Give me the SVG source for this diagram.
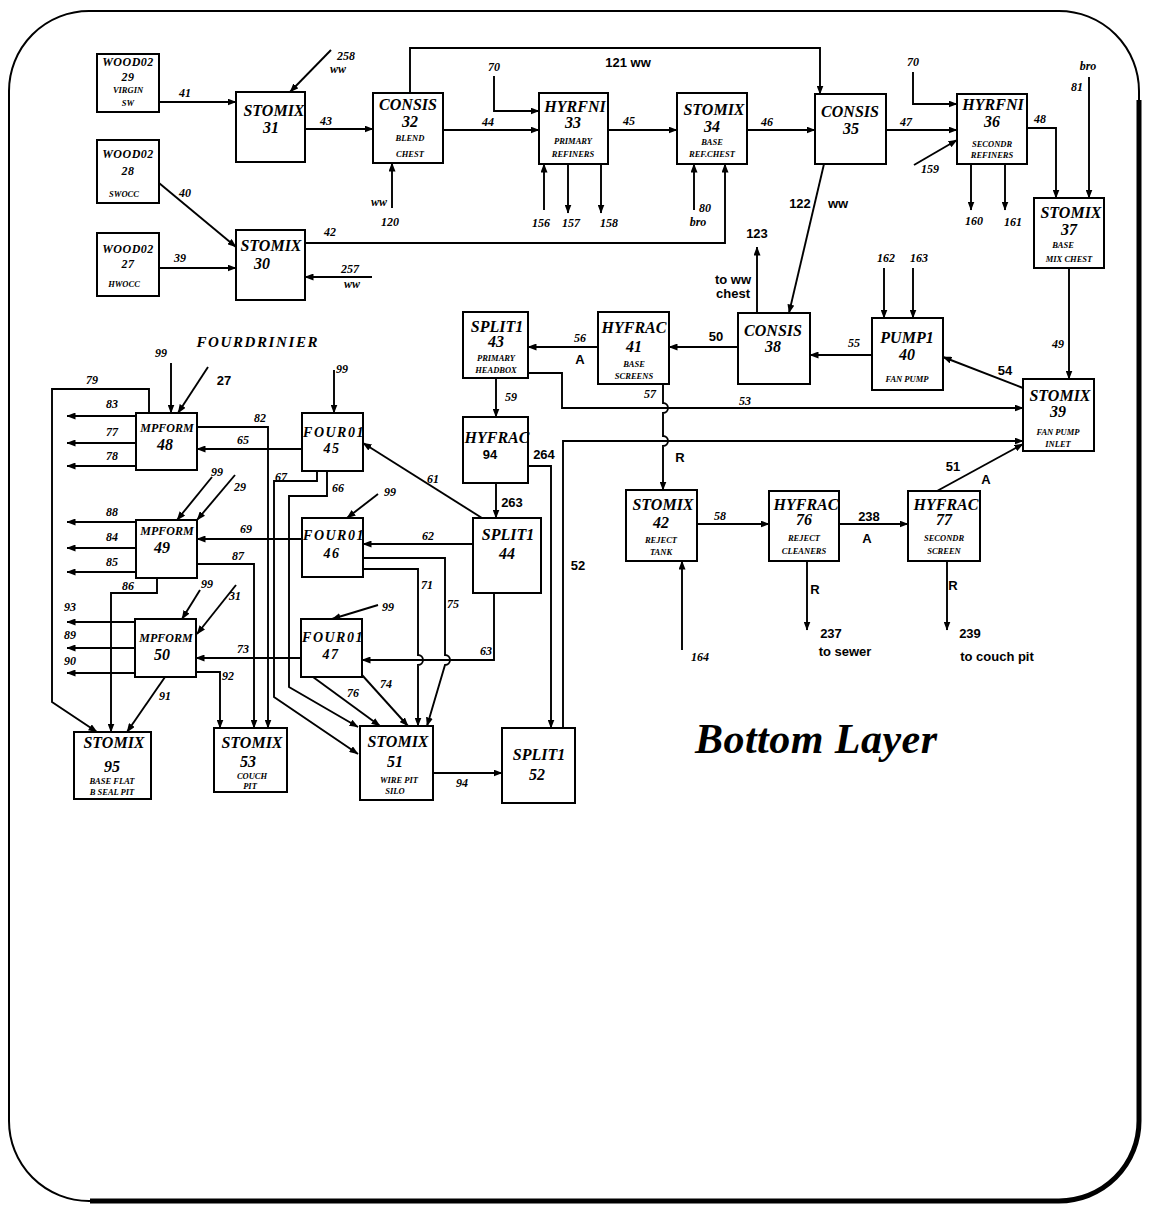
<svg xmlns="http://www.w3.org/2000/svg" width="1149" height="1212" viewBox="0 0 1149 1212">
<defs>
<marker id="ah" markerUnits="userSpaceOnUse" markerWidth="9" markerHeight="7" refX="8.5" refY="3.5" orient="auto"><path d="M0,0 L9,3.5 L0,7 z" fill="#000"/></marker>
<style>
.bx{fill:#fff;stroke:#000;stroke-width:2}
text{font-family:"Liberation Serif",serif;font-style:italic;font-weight:bold;text-anchor:middle;fill:#000}
.t{font-size:16px}
.w{font-size:12px;letter-spacing:0.5px}
.f{font-size:14px;letter-spacing:1.5px}
.m{font-size:12px}
.s{font-size:8.5px}
.e{font-size:12px}
.g{font-family:"Liberation Sans",sans-serif;font-style:normal;font-size:13px}
.c path{fill:none;stroke:#000;stroke-width:1.9}
.c .ar{marker-end:url(#ah)}
.fr{fill:none;stroke:#000}
</style>
</defs>
<rect width="1149" height="1212" fill="#fff"/>
<g id="frame">
<rect class="fr" x="9" y="11" width="1130" height="1190" rx="80" ry="80" stroke-width="2"/>
<path class="fr" d="M1139,100 V1121 A80,80 0 0 1 1059,1201 H90" stroke-width="5"/>
</g>

<g id="connectors" class="c">
<path class="ar" d="M159,102 H236"/>
<path class="ar" d="M331,50 L290,92"/>
<path class="ar" d="M305,129 H373"/>
<path class="ar" d="M392,208 V163"/>
<path class="ar" d="M410,93 V48 H820 V94"/>
<path class="ar" d="M443,130 H539"/>
<path class="ar" d="M494,76 V111 H539"/>
<path class="ar" d="M608,130 H677"/>
<path class="ar" d="M544,210 V164"/>
<path class="ar" d="M568,164 V213"/>
<path class="ar" d="M601,164 V213"/>
<path class="ar" d="M694,210 V164"/>
<path class="ar" d="M305,243 H725 V164"/>
<path class="ar" d="M747,130 H815"/>
<path class="ar" d="M886,130 H957"/>
<path class="ar" d="M913,72 V104 H957"/>
<path class="ar" d="M914,165 L957,140"/>
<path class="ar" d="M971,164 V210"/>
<path class="ar" d="M1005,164 V210"/>
<path class="ar" d="M1027,128 H1056 V198"/>
<path class="ar" d="M1089,77 V198"/>
<path class="ar" d="M159,183 L236,247"/>
<path class="ar" d="M159,268 H236"/>
<path class="ar" d="M372,277 H305"/>
<path class="ar" d="M824,164 L789,313"/>
<path class="ar" d="M757,313 V247"/>
<path class="ar" d="M884,268 V318"/>
<path class="ar" d="M913,268 V318"/>
<path class="ar" d="M1069,268 V379"/>
<path class="ar" d="M872,355 H810"/>
<path class="ar" d="M738,347 H669"/>
<path class="ar" d="M598,347 H528"/>
<path class="ar" d="M1023,388 L943,357"/>
<path class="ar" d="M528,373 H562 V408 H1023"/>
<path class="ar" d="M663,384 V403 A5,5 0 0 1 663,413 V436 A5,5 0 0 1 663,446 V490"/>
<path class="ar" d="M528,466 H551 V728"/>
<path class="ar" d="M563,728 V441 H1023"/>
<path class="ar" d="M496,378 V417"/>
<path class="ar" d="M496,483 V518"/>
<path class="ar" d="M697,524 H769"/>
<path class="ar" d="M839,524 H908"/>
<path class="ar" d="M937,491 L1023,444"/>
<path class="ar" d="M682,650 V561"/>
<path class="ar" d="M807,561 V630"/>
<path class="ar" d="M947,561 V630"/>
<path class="ar" d="M171,363 V413"/>
<path class="ar" d="M208,367 L178,413"/>
<path class="ar" d="M149,413 V389 H52 V702 L97,732"/>
<path class="ar" d="M136,416 H67"/>
<path class="ar" d="M136,443 H67"/>
<path class="ar" d="M136,466 H67"/>
<path class="ar" d="M197,427 H268 V728"/>
<path class="ar" d="M302,449 H197"/>
<path class="ar" d="M334,370 V413"/>
<path class="ar" d="M482,518 L363,443"/>
<path class="ar" d="M317,471 V481 H274 V697 L358,754"/>
<path class="ar" d="M327,471 V496 H289 V687 L358,727"/>
<path class="ar" d="M378,494 L347,518"/>
<path class="ar" d="M235,475 L197,520"/>
<path class="ar" d="M212,477 L177,520"/>
<path class="ar" d="M302,539 H197"/>
<path class="ar" d="M473,544 H363"/>
<path class="ar" d="M197,564 H254 V728"/>
<path class="ar" d="M136,522 H67"/>
<path class="ar" d="M136,548 H67"/>
<path class="ar" d="M136,572 H67"/>
<path class="ar" d="M363,569 H418 V655 A5,5 0 0 1 418,665 V726"/>
<path class="ar" d="M363,558 H445 V655 A5,5 0 0 1 445,665 L427,726"/>
<path class="ar" d="M157,578 V593 H111 V732"/>
<path class="ar" d="M200,590 L182,619"/>
<path class="ar" d="M236,585 L197,634"/>
<path class="ar" d="M135,622 H67"/>
<path class="ar" d="M135,648 H67"/>
<path class="ar" d="M135,673 H67"/>
<path class="ar" d="M301,658 H196"/>
<path class="ar" d="M378,605 L332,619"/>
<path class="ar" d="M494,593 V660 H362"/>
<path class="ar" d="M196,672 H220 V728"/>
<path class="ar" d="M165,677 L127,732"/>
<path class="ar" d="M313,677 L380,726"/>
<path class="ar" d="M362,675 L408,726"/>
<path class="ar" d="M433,773 H502"/>
</g>

<g id="edge-labels">
<text class="e" x="185" y="97">41</text>
<text class="e" x="346" y="60">258</text>
<text class="e" x="338" y="73">ww</text>
<text class="e" x="326" y="125">43</text>
<text class="e" x="379" y="206">ww</text>
<text class="e" x="390" y="226">120</text>
<text class="g" x="628" y="67">121 ww</text>
<text class="e" x="488" y="126">44</text>
<text class="e" x="494" y="71">70</text>
<text class="e" x="629" y="125">45</text>
<text class="e" x="541" y="227">156</text>
<text class="e" x="571" y="227">157</text>
<text class="e" x="609" y="227">158</text>
<text class="e" x="705" y="212">80</text>
<text class="e" x="698" y="226">bro</text>
<text class="e" x="767" y="126">46</text>
<text class="e" x="906" y="126">47</text>
<text class="e" x="913" y="66">70</text>
<text class="e" x="930" y="173">159</text>
<text class="e" x="974" y="225">160</text>
<text class="e" x="1013" y="226">161</text>
<text class="e" x="1040" y="123">48</text>
<text class="e" x="1088" y="70">bro</text>
<text class="e" x="1077" y="91">81</text>
<text class="e" x="185" y="197">40</text>
<text class="e" x="180" y="262">39</text>
<text class="e" x="330" y="236">42</text>
<text class="e" x="350" y="273">257</text>
<text class="e" x="352" y="288">ww</text>
<text class="g" x="800" y="208">122</text>
<text class="g" x="838" y="208">ww</text>
<text class="g" x="757" y="238">123</text>
<text class="g" x="733" y="284">to ww</text>
<text class="g" x="733" y="298">chest</text>
<text class="e" x="886" y="262">162</text>
<text class="e" x="919" y="262">163</text>
<text class="e" x="1058" y="348">49</text>
<text class="e" x="854" y="347">55</text>
<text class="g" x="716" y="341">50</text>
<text class="e" x="580" y="342">56</text>
<text class="g" x="580" y="364">A</text>
<text class="g" x="1005" y="375">54</text>
<text class="e" x="745" y="405">53</text>
<text class="e" x="650" y="398">57</text>
<text class="g" x="680" y="462">R</text>
<text class="e" x="511" y="401">59</text>
<text class="g" x="544" y="459">264</text>
<text class="g" x="512" y="507">263</text>
<text class="g" x="578" y="570">52</text>
<text class="e" x="720" y="520">58</text>
<text class="g" x="869" y="521">238</text>
<text class="g" x="867" y="543">A</text>
<text class="g" x="953" y="471">51</text>
<text class="g" x="986" y="484">A</text>
<text class="e" x="700" y="661">164</text>
<text class="g" x="815" y="594">R</text>
<text class="g" x="831" y="638">237</text>
<text class="g" x="845" y="656">to sewer</text>
<text class="g" x="953" y="590">R</text>
<text class="g" x="970" y="638">239</text>
<text class="g" x="997" y="661">to couch pit</text>
<text class="e" x="161" y="357">99</text>
<text class="g" x="224" y="385">27</text>
<text class="e" x="92" y="384">79</text>
<text class="e" x="112" y="408">83</text>
<text class="e" x="112" y="436">77</text>
<text class="e" x="112" y="460">78</text>
<text class="e" x="260" y="422">82</text>
<text class="e" x="243" y="444">65</text>
<text class="e" x="342" y="373">99</text>
<text class="e" x="433" y="483">61</text>
<text class="e" x="281" y="481">67</text>
<text class="e" x="338" y="492">66</text>
<text class="e" x="390" y="496">99</text>
<text class="e" x="217" y="476">99</text>
<text class="e" x="240" y="491">29</text>
<text class="e" x="246" y="533">69</text>
<text class="e" x="428" y="540">62</text>
<text class="e" x="238" y="560">87</text>
<text class="e" x="112" y="516">88</text>
<text class="e" x="112" y="541">84</text>
<text class="e" x="112" y="566">85</text>
<text class="e" x="427" y="589">71</text>
<text class="e" x="453" y="608">75</text>
<text class="e" x="128" y="590">86</text>
<text class="e" x="207" y="588">99</text>
<text class="e" x="235" y="600">31</text>
<text class="e" x="70" y="611">93</text>
<text class="e" x="70" y="639">89</text>
<text class="e" x="70" y="665">90</text>
<text class="e" x="243" y="653">73</text>
<text class="e" x="388" y="611">99</text>
<text class="e" x="486" y="655">63</text>
<text class="e" x="228" y="680">92</text>
<text class="e" x="165" y="700">91</text>
<text class="e" x="353" y="697">76</text>
<text class="e" x="386" y="688">74</text>
<text class="e" x="462" y="787">94</text>
</g>

<g id="n29"><rect class="bx" x="97" y="54" width="62" height="58"/><text class="w" x="128" y="66">WOOD02</text><text class="w" x="128" y="81">29</text><text class="s" x="128" y="93">VIRGIN</text><text class="s" x="128" y="106">SW</text></g>
<g id="n28"><rect class="bx" x="97" y="140" width="62" height="63"/><text class="w" x="128" y="158">WOOD02</text><text class="w" x="128" y="175">28</text><text class="s" x="124" y="197">SWOCC</text></g>
<g id="n27"><rect class="bx" x="97" y="233" width="62" height="63"/><text class="w" x="128" y="253">WOOD02</text><text class="w" x="128" y="268">27</text><text class="s" x="124" y="287">HWOCC</text></g>
<g id="n31"><rect class="bx" x="236" y="92" width="69" height="70"/><text class="t" x="274" y="116">STOMIX</text><text class="t" x="271" y="133">31</text></g>
<g id="n30"><rect class="bx" x="236" y="230" width="69" height="70"/><text class="t" x="271" y="251">STOMIX</text><text class="t" x="262" y="269">30</text></g>
<g id="n32"><rect class="bx" x="373" y="93" width="70" height="70"/><text class="t" x="408" y="110">CONSIS</text><text class="t" x="410" y="127">32</text><text class="s" x="410" y="141">BLEND</text><text class="s" x="410" y="157">CHEST</text></g>
<g id="n33"><rect class="bx" x="539" y="93" width="69" height="71"/><text class="t" x="575" y="112">HYRFNI</text><text class="t" x="573" y="128">33</text><text class="s" x="573" y="144">PRIMARY</text><text class="s" x="573" y="157">REFINERS</text></g>
<g id="n34"><rect class="bx" x="677" y="93" width="70" height="71"/><text class="t" x="714" y="115">STOMIX</text><text class="t" x="712" y="132">34</text><text class="s" x="712" y="145">BASE</text><text class="s" x="712" y="157">REF.CHEST</text></g>
<g id="n35"><rect class="bx" x="815" y="94" width="71" height="70"/><text class="t" x="850" y="117">CONSIS</text><text class="t" x="851" y="134">35</text></g>
<g id="n36"><rect class="bx" x="957" y="94" width="70" height="70"/><text class="t" x="993" y="110">HYRFNI</text><text class="t" x="992" y="127">36</text><text class="s" x="992" y="147">SECONDR</text><text class="s" x="992" y="158">REFINERS</text></g>
<g id="n37"><rect class="bx" x="1034" y="198" width="70" height="70"/><text class="t" x="1071" y="218">STOMIX</text><text class="t" x="1069" y="235">37</text><text class="s" x="1063" y="248">BASE</text><text class="s" x="1069" y="262">MIX CHEST</text></g>
<g id="n38"><rect class="bx" x="738" y="313" width="72" height="71"/><text class="t" x="773" y="336">CONSIS</text><text class="t" x="773" y="352">38</text></g>
<g id="n40"><rect class="bx" x="872" y="318" width="71" height="72"/><text class="t" x="907" y="343">PUMP1</text><text class="t" x="907" y="360">40</text><text class="s" x="907" y="382">FAN PUMP</text></g>
<g id="n41"><rect class="bx" x="598" y="312" width="71" height="72"/><text class="t" x="634" y="333">HYFRAC</text><text class="t" x="634" y="352">41</text><text class="s" x="634" y="367">BASE</text><text class="s" x="634" y="379">SCREENS</text></g>
<g id="n43"><rect class="bx" x="463" y="312" width="65" height="66"/><text class="t" x="497" y="332">SPLIT1</text><text class="t" x="496" y="347">43</text><text class="s" x="496" y="361">PRIMARY</text><text class="s" x="496" y="373">HEADBOX</text></g>
<g id="n39"><rect class="bx" x="1023" y="379" width="71" height="72"/><text class="t" x="1060" y="401">STOMIX</text><text class="t" x="1058" y="417">39</text><text class="s" x="1058" y="435">FAN PUMP</text><text class="s" x="1058" y="447">INLET</text></g>
<g id="n94"><rect class="bx" x="463" y="417" width="65" height="66"/><text class="t" x="497" y="443">HYFRAC</text><text class="g" x="490" y="459">94</text></g>
<g id="n44"><rect class="bx" x="473" y="518" width="68" height="75"/><text class="t" x="508" y="540">SPLIT1</text><text class="t" x="507" y="559">44</text></g>
<g id="n42"><rect class="bx" x="626" y="490" width="71" height="71"/><text class="t" x="663" y="510">STOMIX</text><text class="t" x="661" y="528">42</text><text class="s" x="661" y="543">REJECT</text><text class="s" x="661" y="555">TANK</text></g>
<g id="n76"><rect class="bx" x="769" y="491" width="70" height="70"/><text class="t" x="806" y="510">HYFRAC</text><text class="t" x="804" y="525">76</text><text class="s" x="804" y="541">REJECT</text><text class="s" x="804" y="554">CLEANERS</text></g>
<g id="n77"><rect class="bx" x="908" y="491" width="72" height="70"/><text class="t" x="946" y="510">HYFRAC</text><text class="t" x="944" y="525">77</text><text class="s" x="944" y="541">SECONDR</text><text class="s" x="944" y="554">SCREEN</text></g>
<g id="n45"><rect class="bx" x="302" y="413" width="61" height="58"/><text class="f" x="334" y="437">FOUR01</text><text class="f" x="332" y="453">45</text></g>
<g id="n46"><rect class="bx" x="302" y="518" width="61" height="59"/><text class="f" x="334" y="540">FOUR01</text><text class="f" x="332" y="558">46</text></g>
<g id="n47"><rect class="bx" x="301" y="619" width="61" height="58"/><text class="f" x="333" y="642">FOUR01</text><text class="f" x="331" y="659">47</text></g>
<g id="n48"><rect class="bx" x="136" y="413" width="61" height="57"/><text class="m" x="167" y="432">MPFORM</text><text class="t" x="165" y="450">48</text></g>
<g id="n49"><rect class="bx" x="136" y="520" width="61" height="58"/><text class="m" x="167" y="535">MPFORM</text><text class="t" x="162" y="553">49</text></g>
<g id="n50"><rect class="bx" x="135" y="619" width="61" height="58"/><text class="m" x="166" y="642">MPFORM</text><text class="t" x="162" y="660">50</text></g>
<g id="n95"><rect class="bx" x="74" y="732" width="77" height="67"/><text class="t" x="114" y="748">STOMIX</text><text class="t" x="112" y="772">95</text><text class="s" x="112" y="784">BASE FLAT</text><text class="s" x="112" y="795">B SEAL PIT</text></g>
<g id="n53"><rect class="bx" x="214" y="728" width="73" height="64"/><text class="t" x="252" y="748">STOMIX</text><text class="t" x="248" y="767">53</text><text class="s" x="252" y="779">COUCH</text><text class="s" x="250" y="789">PIT</text></g>
<g id="n51"><rect class="bx" x="360" y="726" width="73" height="74"/><text class="t" x="398" y="747">STOMIX</text><text class="t" x="395" y="767">51</text><text class="s" x="399" y="783">WIRE PIT</text><text class="s" x="395" y="794">SILO</text></g>
<g id="n52"><rect class="bx" x="502" y="728" width="73" height="75"/><text class="t" x="539" y="760">SPLIT1</text><text class="t" x="537" y="780">52</text></g>

<g id="titles">
<text x="257" y="347" font-size="15" textLength="121">FOURDRINIER</text>
<text x="816" y="753" font-size="42" font-weight="normal" textLength="242">Bottom Layer</text>
</g>
</svg>
